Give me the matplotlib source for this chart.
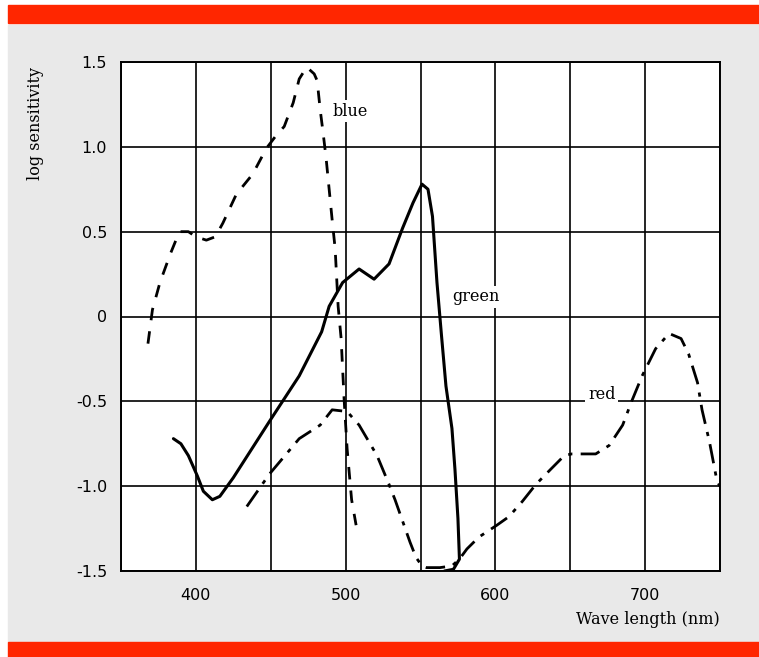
import matplotlib

matplotlib.use("Agg")

import matplotlib.pyplot as plt
from matplotlib.patches import Rectangle

# Values (wavelength in nm, log sensitivity)
blue_wl = [368, 371, 376, 383, 389, 395, 400, 407, 413, 418, 427, 438, 447, 453,
           459, 465, 469, 474, 479, 481, 483, 485, 487, 489, 491, 493, 495, 497,
           499, 501, 504, 507]
blue_val = [-0.16, 0.04, 0.2, 0.37, 0.5, 0.5, 0.47, 0.45, 0.47, 0.55, 0.72, 0.84,
            0.99, 1.06, 1.12, 1.26, 1.4, 1.47, 1.43, 1.39, 1.22, 1.08, 0.93, 0.75,
            0.57, 0.4, 0.06, -0.13, -0.49, -0.78, -1.08, -1.23]

green_wl = [385, 390, 395, 401, 405, 411, 416, 425, 449, 469, 484, 489, 498, 509,
            519, 529, 538, 545, 551, 555, 558, 561, 564, 567, 571, 573, 575, 576,
            572, 566]
green_val = [-0.72, -0.75, -0.82, -0.94, -1.03, -1.08, -1.06, -0.95, -0.62, -0.35,
             -0.09, 0.06, 0.2, 0.28, 0.22, 0.31, 0.52, 0.67, 0.78, 0.75, 0.59, 0.2,
             -0.11, -0.41, -0.66, -0.9, -1.19, -1.43, -1.49, -1.5]

red_wl = [434, 449, 469, 483, 491, 501, 509, 521, 529, 533, 537, 543, 547, 551,
          554, 563, 571, 576, 581, 589, 601, 609, 618, 627, 637, 646, 651, 667,
          676, 685, 691, 698, 707, 716, 724, 729, 735, 738, 743, 748, 750]
red_val = [-1.12, -0.93, -0.72, -0.64, -0.55, -0.56, -0.64, -0.82, -0.99, -1.08,
           -1.18, -1.33, -1.42, -1.47, -1.48, -1.48, -1.47, -1.43, -1.37, -1.3,
           -1.23, -1.18, -1.09, -0.99, -0.9, -0.82, -0.81, -0.81, -0.76, -0.64,
           -0.5, -0.35, -0.19, -0.1, -0.13, -0.22, -0.39, -0.55, -0.74, -0.97, -1.0]

x_ticks = [400, 500, 600, 700]
y_ticks = [-1.5, -1.0, -0.5, 0, 0.5, 1.0, 1.5]
y_tick_labels = ["-1.5", "-1.0", "-0.5", "0", "0.5", "1.0", "1.5"]

RED = "#ff2600"
GRAY = "#e9e9e9"
SERIF = "DejaVu Serif"

fig = plt.figure(figsize=(7.59, 6.57), dpi=100, facecolor="white")

# page background and red bands
fig.patches.append(Rectangle((8 / 759, 15 / 657), 1, 617 / 657,
                             transform=fig.transFigure, color=GRAY, zorder=-3))
fig.patches.append(Rectangle((8 / 759, 1 - 23 / 657), 1, 18 / 657,
                             transform=fig.transFigure, color=RED, zorder=-2))
fig.patches.append(Rectangle((8 / 759, 0), 1, 15 / 657,
                             transform=fig.transFigure, color=RED, zorder=-2))

ax = fig.add_axes([121 / 759, 1 - 571 / 657, 599 / 759, 509 / 657])
ax.set_facecolor("white")

ax.plot(blue_wl, blue_val, color="black", lw=2.0, dashes=(4.5, 4))
ax.plot(green_wl, green_val, color="black", lw=2.2, solid_capstyle="round",
        solid_joinstyle="round")
ax.plot(red_wl, red_val, color="black", lw=2.0, dashes=(7, 3, 1.5, 3))

ax.set_xlim(350, 750)
ax.set_ylim(-1.5, 1.5)
ax.set_xticks(range(350, 751, 50), minor=True)
ax.set_xticks(x_ticks)
ax.set_yticks(y_ticks, y_tick_labels)
ax.grid(True, which="both", color="black", lw=1.2)
ax.set_axisbelow(True)
ax.tick_params(which="both", length=0, labelsize=11.5)
ax.tick_params(axis="x", pad=12)
ax.tick_params(axis="y", pad=10)
for s in ax.spines.values():
    s.set_linewidth(1.4)

box = dict(facecolor="white", edgecolor="none", pad=2)
ax.text(503, 1.21, "blue", family=SERIF, fontsize=11.5, ha="center", va="center", bbox=box)
ax.text(587, 0.115, "green", family=SERIF, fontsize=11.5, ha="center", va="center", bbox=box)
ax.text(671, -0.46, "red", family=SERIF, fontsize=11.5, ha="center", va="center", bbox=box)

fig.text(35 / 759, 1 - 123 / 657, "log sensitivity", family=SERIF, fontsize=11.5,
         rotation=90, ha="center", va="center")
fig.text(648 / 759, 1 - 620 / 657, "Wave length (nm)", family=SERIF, fontsize=11.5,
         ha="center", va="center")

fig.savefig("out.png", dpi=100)
